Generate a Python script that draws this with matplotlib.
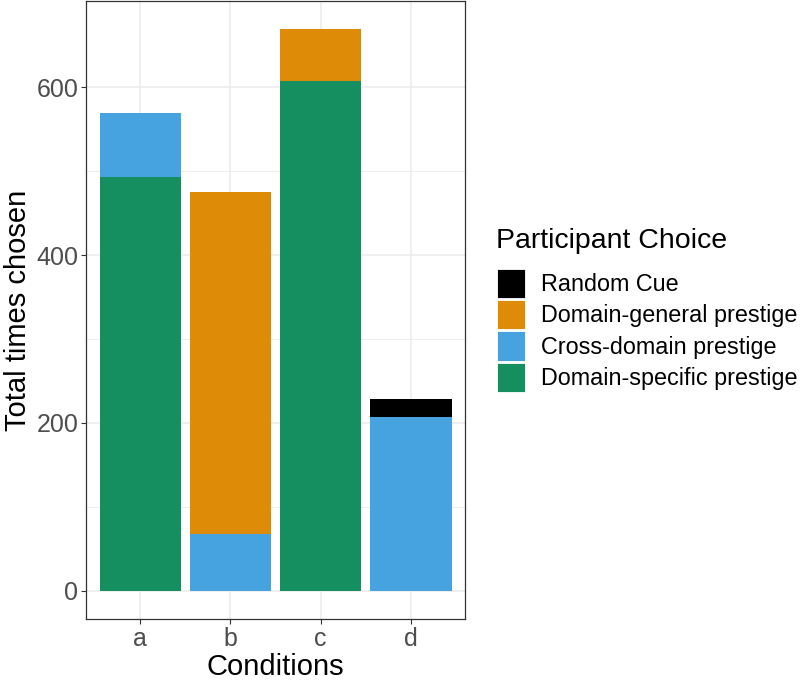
import matplotlib
matplotlib.use('Agg')
import matplotlib.pyplot as plt
from matplotlib.patches import Patch
import numpy as np

conditions = ['a', 'b', 'c', 'd']
domain_specific = [493, 0, 608, 0]
cross_domain = [77, 67, 0, 207]
domain_general = [0, 408, 61, 0]
random_cue = [0, 0, 0, 21]

series_names = ['Random Cue', 'Domain-general prestige',
                'Cross-domain prestige', 'Domain-specific prestige']
colors = ['#000000', '#DE8B07', '#47A3E0', '#158F60']

plt.rcParams['font.family'] = ['Liberation Sans', 'DejaVu Sans']

fig = plt.figure(figsize=(8, 6.83), dpi=100)
ax = fig.add_axes([0.1075, 0.094, 0.474, 0.904])

x = np.arange(len(conditions))
# stack bottom to top: domain-specific, cross-domain, domain-general, random cue
stack = [domain_specific, cross_domain, domain_general, random_cue]
stack_colors = colors[::-1]
bottom = np.zeros(len(conditions))
for vals, col in zip(stack, stack_colors):
    vals = np.array(vals, dtype=float)
    ax.bar(x, vals, width=0.9, bottom=bottom, color=col, linewidth=0, zorder=3)
    bottom += vals

ax.set_xlim(-0.6, 3.6)
ax.set_ylim(-33.5, 702.5)
ax.set_xticks(x)
ax.set_xticklabels(conditions)
ax.set_yticks([0, 200, 400, 600])
ax.set_yticks([100, 300, 500], minor=True)
ax.grid(which='major', color='#EBEBEB', lw=1.1, zorder=0)
ax.grid(which='minor', axis='y', color='#EBEBEB', lw=0.6, zorder=0)
ax.tick_params(which='major', length=3.6, width=0.8, color='#333333',
               labelcolor='#4D4D4D', labelsize=18, pad=2)
ax.tick_params(which='minor', length=0)
for s in ax.spines.values():
    s.set_color('#333333')
    s.set_linewidth(0.9)

ax.set_xlabel('Conditions', fontsize=21, labelpad=2)
ax.set_ylabel('Total times chosen', fontsize=21, labelpad=3)

# legend: title as its own text so the gap to the keys matches ggplot
fig.text(0.62, 0.647, 'Participant Choice', fontsize=20.5, va='center', ha='left')
handles = [Patch(facecolor=c, edgecolor='white', linewidth=0.6) for c in colors]
leg = fig.legend(handles, series_names, loc='upper left',
                 bbox_to_anchor=(0.621, 0.606), frameon=False, fontsize=16.8,
                 handlelength=1.22, handleheight=1.54, labelspacing=0.09,
                 handletextpad=0.69, borderpad=0, borderaxespad=0)

fig.savefig('out.png', dpi=100)
